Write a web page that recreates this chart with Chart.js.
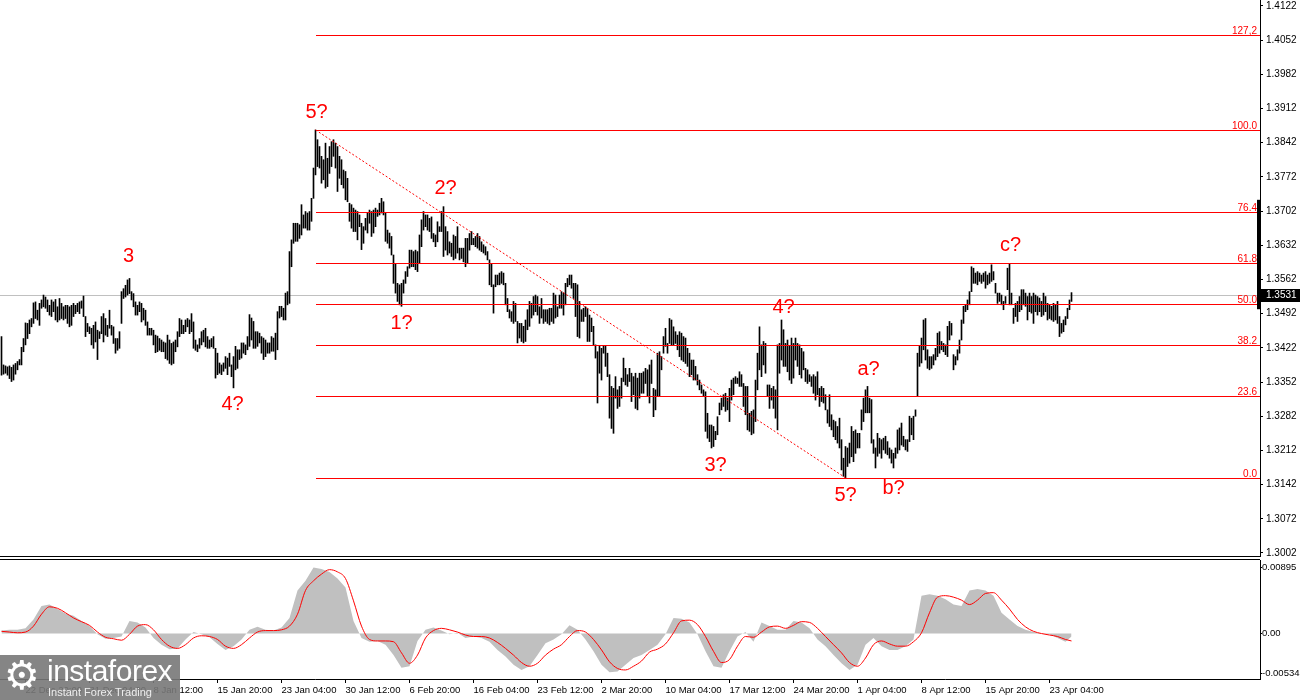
<!DOCTYPE html>
<html><head><meta charset="utf-8">
<script src="https://cdn.jsdelivr.net/npm/chart.js@4.4.1/dist/chart.umd.min.js"></script>
<style>
html,body{margin:0;padding:0;background:#fff;width:1300px;height:700px;overflow:hidden;font-family:"Liberation Sans",Arial,sans-serif}
#c1{position:absolute;left:0;top:0}
#c2{position:absolute;left:0;top:556px}
#wm{position:absolute;left:0;top:655px;width:180px;height:45px;background:rgba(120,120,120,0.9);color:#fff;overflow:hidden}
#wm .g{position:absolute;left:4px;top:-4px;font-family:"DejaVu Sans";font-size:40px;line-height:48px;color:#fff}
#wm .t{position:absolute;left:47px;top:0px;font-size:30px;line-height:32px;letter-spacing:-0.5px;color:#fff}
#wm .s{position:absolute;left:48px;top:31px;font-size:11px;line-height:13px;color:#eee}
</style></head><body>
<canvas id="c1" width="1300" height="557"></canvas>
<canvas id="c2" width="1300" height="144"></canvas>
<div id="wm"><span class="g">&#9881;</span><span class="t">instaforex</span><span class="s">Instant Forex Trading</span></div>
<script>
// ---- price bars (H4), high / low ----
const highs=[
1.3445,1.3387,1.3385,1.3383,1.3385,1.3382,1.3387,1.3390,1.3394,1.3398,
1.3423,1.3441,1.3473,1.3472,1.3479,1.3482,1.3514,1.3516,1.3499,1.3513,
1.3520,1.3530,1.3526,1.3520,1.3509,1.3520,1.3516,1.3521,1.3506,1.3523,
1.3513,1.3506,1.3509,1.3509,1.3506,1.3509,1.3513,1.3509,1.3513,1.3516,
1.3518,1.3528,1.3486,1.3472,1.3465,1.3462,1.3468,1.3475,1.3458,1.3455,
1.3486,1.3492,1.3482,1.3468,1.3499,1.3468,1.3465,1.3441,1.3441,1.3455,
1.3537,1.3543,1.3550,1.3561,1.3564,1.3537,1.3533,1.3516,1.3509,1.3516,
1.3513,1.3503,1.3499,1.3475,1.3462,1.3462,1.3458,1.3448,1.3446,1.3441,
1.3438,1.3434,1.3432,1.3448,1.3438,1.3431,1.3434,1.3438,1.3455,1.3482,
1.3479,1.3468,1.3479,1.3482,1.3479,1.3492,1.3475,1.3438,1.3428,1.3441,
1.3455,1.3458,1.3462,1.3445,1.3438,1.3441,1.3445,
1.3421,1.3411,1.3391,1.3387,1.3391,1.3404,1.3401,1.3411,1.3387,1.3404,
1.3425,1.3418,1.3418,1.3432,1.3432,1.3428,1.3445,1.3490,1.3483,1.3476,
1.3455,1.3455,1.3452,1.3445,1.3442,1.3438,1.3432,1.3432,1.3445,1.3442,
1.3452,1.3496,1.3507,1.3507,1.3503,1.3534,1.3537,1.3619,1.3643,1.3677,
1.3677,1.3677,1.3674,1.3715,1.3694,1.3701,1.3698,1.3701,1.3728,1.3790,
1.3868,1.3848,1.3834,1.3814,1.3807,1.3841,1.3810,1.3834,1.3844,1.3848,
1.3841,1.3834,1.3814,1.3807,1.3786,1.3783,1.3769,1.3718,1.3715,1.3708,
1.3704,1.3701,1.3694,1.3677,1.3670,1.3687,1.3698,1.3704,1.3701,1.3704,
1.3708,1.3704,1.3718,1.3728,1.3721,1.3698,1.3663,1.3657,1.3650,1.3612,
1.3595,1.3554,1.3551,1.3554,1.3561,1.3578,1.3588,1.3622,1.3622,1.3619,
1.3622,1.3619,1.3653,1.3684,1.3701,1.3694,1.3694,1.3687,
1.3690,1.3656,1.3653,1.3680,1.3670,1.3701,1.3711,1.3670,1.3660,1.3639,
1.3636,1.3653,1.3650,1.3670,1.3626,1.3626,1.3626,1.3646,1.3646,1.3656,
1.3660,1.3646,1.3650,1.3656,1.3650,1.3639,1.3633,1.3629,1.3619,1.3602,
1.3595,1.3551,1.3571,1.3571,1.3575,1.3578,1.3575,1.3554,1.3523,1.3500,
1.3496,1.3517,1.3513,1.3476,1.3472,1.3472,1.3466,1.3479,1.3500,1.3517,
1.3513,1.3527,1.3530,1.3527,1.3506,1.3523,1.3500,1.3500,1.3500,1.3503,
1.3503,1.3534,1.3530,1.3506,1.3530,1.3537,1.3534,1.3554,1.3564,1.3571,
1.3571,1.3554,1.3554,1.3551,1.3517,1.3500,1.3503,1.3506,1.3503,1.3489,
1.3483,1.3466,1.3428,1.3414,1.3425,1.3421,1.3425,1.3425,1.3411,1.3367,
1.3343,1.3339,1.3363,1.3336,1.3343,1.3360,1.3401,1.3380,1.3367,1.3380,
1.3370,1.3363,1.3370,1.3360,1.3370,
1.3370,1.3373,1.3380,1.3377,1.3387,1.3397,1.3339,1.3336,1.3411,1.3414,
1.3404,1.3445,1.3462,1.3431,1.3482,1.3479,1.3465,1.3455,1.3448,1.3455,
1.3452,1.3445,1.3442,1.3421,1.3411,1.3397,1.3397,1.3384,1.3367,1.3356,
1.3346,1.3336,1.3332,1.3288,1.3264,1.3264,1.3261,1.3251,1.3281,1.3309,
1.3319,1.3326,1.3329,1.3319,1.3339,1.3356,1.3360,1.3363,1.3360,1.3373,
1.3367,1.3349,1.3343,1.3343,1.3288,1.3292,1.3295,1.3356,1.3411,1.3465,
1.3428,1.3435,1.3431,1.3346,1.3346,1.3339,1.3343,1.3336,1.3428,1.3431,
1.3479,1.3459,1.3431,1.3438,1.3425,1.3442,1.3431,1.3442,1.3431,1.3428,
1.3421,1.3414,1.3380,1.3377,1.3367,1.3363,1.3367,1.3363,1.3373,1.3339,
1.3343,1.3339,1.3326,1.3295,1.3326,1.3285,1.3274,1.3271,1.3261,1.3278,
1.3234,1.3196,1.3220,1.3217,1.3227,1.3261,1.3251,1.3254,1.3247,1.3247,
1.3295,1.3319,1.3336,1.3343,1.3319,1.3316,1.3234,1.3217,1.3247,1.3237,
1.3234,1.3237,1.3241,1.3230,1.3217,1.3213,1.3206,1.3217,1.3254,1.3258,
1.3268,1.3241,1.3234,1.3234,1.3282,1.3278,1.3282,1.3295,1.3411,1.3425,
1.3442,1.3479,1.3482,1.3418,1.3404,1.3404,1.3408,1.3421,1.3452,1.3455,
1.3435,1.3431,1.3428,1.3466,1.3476,1.3472,1.3408,1.3404,1.3418,1.3438,
1.3479,1.3507,1.3510,1.3520,1.3537,1.3588,1.3585,1.3575,1.3578,1.3575,
1.3571,1.3575,1.3578,1.3571,1.3575,1.3592,1.3578,1.3554,1.3534,1.3534,
1.3530,1.3517,1.3527,1.3585,1.3595,1.3534,1.3503,1.3513,1.3517,1.3527,
1.3541,1.3541,1.3534,1.3527,1.3534,1.3527,1.3534,1.3530,1.3527,1.3524,
1.3517,1.3534,1.3527,1.3513,1.3510,1.3507,1.3513,1.3510,1.3517,1.3486,
1.3472,1.3479,1.3486,1.3503,1.3520,1.3535];
const lows=[
1.3366,1.3368,1.3370,1.3366,1.3359,1.3353,1.3356,1.3368,1.3377,1.3387,
1.3387,1.3414,1.3428,1.3441,1.3451,1.3465,1.3472,1.3482,1.3479,1.3468,
1.3503,1.3506,1.3503,1.3496,1.3489,1.3486,1.3496,1.3479,1.3475,1.3479,
1.3482,1.3479,1.3482,1.3472,1.3465,1.3468,1.3486,1.3492,1.3496,1.3492,
1.3503,1.3486,1.3445,1.3455,1.3451,1.3428,1.3421,1.3434,1.3398,1.3441,
1.3451,1.3434,1.3448,1.3445,1.3462,1.3448,1.3431,1.3411,1.3417,1.3421,
1.3472,1.3523,1.3526,1.3530,1.3533,1.3520,1.3506,1.3489,1.3489,1.3496,
1.3475,1.3479,1.3468,1.3448,1.3448,1.3448,1.3428,1.3412,1.3414,1.3417,
1.3414,1.3414,1.3400,1.3397,1.3390,1.3387,1.3390,1.3414,1.3424,1.3445,
1.3451,1.3451,1.3455,1.3465,1.3451,1.3455,1.3421,1.3417,1.3414,1.3421,
1.3428,1.3434,1.3424,1.3421,1.3421,1.3424,1.3421,
1.3360,1.3367,1.3370,1.3367,1.3374,1.3380,1.3367,1.3384,1.3363,1.3340,
1.3377,1.3380,1.3398,1.3401,1.3411,1.3408,1.3418,1.3425,1.3438,1.3421,
1.3421,1.3425,1.3432,1.3411,1.3398,1.3404,1.3411,1.3411,1.3415,1.3415,
1.3398,1.3418,1.3483,1.3486,1.3479,1.3479,1.3510,1.3513,1.3588,1.3636,
1.3640,1.3640,1.3646,1.3653,1.3667,1.3667,1.3663,1.3663,1.3681,1.3728,
1.3776,1.3793,1.3790,1.3759,1.3766,1.3749,1.3752,1.3779,1.3793,1.3814,
1.3790,1.3742,1.3769,1.3756,1.3749,1.3725,1.3721,1.3681,1.3667,1.3660,
1.3660,1.3643,1.3670,1.3623,1.3636,1.3663,1.3657,1.3677,1.3650,1.3657,
1.3670,1.3691,1.3694,1.3698,1.3694,1.3640,1.3636,1.3626,1.3612,1.3554,
1.3534,1.3517,1.3510,1.3507,1.3534,1.3554,1.3568,1.3585,1.3588,1.3588,
1.3582,1.3578,1.3595,1.3629,1.3663,1.3670,1.3663,1.3660,
1.3646,1.3639,1.3629,1.3639,1.3660,1.3660,1.3609,1.3622,1.3612,1.3616,
1.3609,1.3602,1.3605,1.3616,1.3602,1.3605,1.3598,1.3588,1.3595,1.3622,
1.3633,1.3633,1.3629,1.3626,1.3622,1.3619,1.3616,1.3612,1.3602,1.3551,
1.3547,1.3493,1.3547,1.3551,1.3551,1.3554,1.3551,1.3510,1.3496,1.3483,
1.3476,1.3472,1.3476,1.3432,1.3442,1.3435,1.3432,1.3435,1.3459,1.3466,
1.3483,1.3489,1.3496,1.3489,1.3472,1.3483,1.3472,1.3476,1.3472,1.3469,
1.3476,1.3472,1.3483,1.3486,1.3503,1.3503,1.3489,1.3510,1.3547,1.3551,
1.3544,1.3523,1.3486,1.3445,1.3442,1.3476,1.3476,1.3486,1.3435,1.3435,
1.3455,1.3428,1.3401,1.3309,1.3370,1.3356,1.3411,1.3384,1.3363,1.3278,
1.3257,1.3247,1.3319,1.3298,1.3302,1.3319,1.3353,1.3346,1.3343,1.3353,
1.3312,1.3326,1.3298,1.3295,1.3319,
1.3329,1.3329,1.3349,1.3322,1.3309,1.3349,1.3281,1.3295,1.3322,1.3322,
1.3377,1.3411,1.3425,1.3411,1.3431,1.3428,1.3428,1.3431,1.3418,1.3404,
1.3397,1.3394,1.3390,1.3384,1.3363,1.3367,1.3356,1.3356,1.3346,1.3336,
1.3329,1.3322,1.3251,1.3237,1.3230,1.3217,1.3220,1.3234,1.3244,1.3285,
1.3295,1.3302,1.3292,1.3295,1.3271,1.3315,1.3326,1.3349,1.3349,1.3343,
1.3343,1.3302,1.3285,1.3254,1.3251,1.3244,1.3247,1.3271,1.3336,1.3377,
1.3363,1.3387,1.3370,1.3322,1.3298,1.3315,1.3298,1.3278,1.3254,1.3370,
1.3397,1.3384,1.3384,1.3373,1.3356,1.3349,1.3360,1.3397,1.3384,1.3367,
1.3360,1.3377,1.3353,1.3349,1.3353,1.3343,1.3329,1.3315,1.3326,1.3302,
1.3312,1.3309,1.3295,1.3268,1.3261,1.3254,1.3240,1.3234,1.3227,1.3217,
1.3172,1.3159,1.3156,1.3179,1.3186,1.3199,1.3189,1.3206,1.3217,1.3217,
1.3254,1.3271,1.3289,1.3289,1.3289,1.3227,1.3206,1.3176,1.3200,1.3206,
1.3196,1.3213,1.3206,1.3203,1.3196,1.3186,1.3176,1.3196,1.3206,1.3213,
1.3223,1.3220,1.3213,1.3210,1.3230,1.3244,1.3234,1.3282,1.3322,1.3384,
1.3391,1.3418,1.3397,1.3380,1.3377,1.3380,1.3387,1.3397,1.3404,1.3411,
1.3418,1.3414,1.3408,1.3404,1.3438,1.3448,1.3377,1.3387,1.3397,1.3411,
1.3438,1.3472,1.3496,1.3500,1.3510,1.3537,1.3554,1.3554,1.3551,1.3558,
1.3554,1.3558,1.3544,1.3551,1.3554,1.3558,1.3561,1.3534,1.3513,1.3517,
1.3510,1.3500,1.3513,1.3541,1.3510,1.3510,1.3472,1.3486,1.3476,1.3496,
1.3500,1.3510,1.3507,1.3479,1.3496,1.3493,1.3472,1.3496,1.3489,1.3496,
1.3486,1.3489,1.3496,1.3479,1.3482,1.3479,1.3476,1.3479,1.3472,1.3445,
1.3452,1.3455,1.3469,1.3482,1.3500,1.3517];

const priceTicks=[1.4122,1.4052,1.3982,1.3912,1.3842,1.3772,1.3702,1.3632,1.3562,1.3492,1.3422,1.3352,1.3282,1.3212,1.3142,1.3072,1.3002];
const lastPrice=1.3531;
const fibHigh=1.3868, fibLow=1.3156;
const fibStartIndex=157, fibEndIndex=422;
const fibRatios=[0,23.6,38.2,50,61.8,76.4,100,127.2];
const fibLabels=["0.0","23.6","38.2","50.0","61.8","76.4","100.0","127,2"];
const markerTop=1.3725, markerBottom=1.3501;

const waveLabels=["3","4?","5?","1?","2?","3?","4?","5?","a?","b?","c?"];
const waveIdx=[63.5,115.5,157.5,200,222,357,391,422,433.5,446,504.5];
const wavePrice=[1.3608,1.3307,1.3903,1.3471,1.3749,1.3182,1.3504,1.3119,1.3377,1.3135,1.3632];

// ---- MACD (sampled every 4 bars) ----
const macdIdx=[];for(let k=0;k<=532;k+=4)macdIdx.push(k);macdIdx.push(535);
const macdHist=[
0.0004,0.0005,0.0005,0.0007,0.0019,0.0037,0.0039,0.0033,0.0027,0.0024,
0.0017,0.0010,-0.0001,-0.0007,-0.0006,-0.0004,0.0017,0.0015,0.0008,-0.0006,
-0.0015,-0.0021,-0.0020,-0.0008,0.0002,-0.0001,-0.0005,-0.0014,-0.0022,-0.0017,
-0.0008,0.0005,0.0009,0.0005,0.0004,0.0008,0.0021,0.0058,0.0071,0.0089,
0.0087,0.0083,0.0074,0.0062,0.0017,-0.0006,-0.0011,-0.0010,-0.0015,-0.0029,
-0.0046,-0.0044,-0.0010,0.0005,0.0008,0.0004,-0.0001,0.0001,-0.0006,-0.0004,
-0.0006,-0.0011,-0.0022,-0.0031,-0.0042,-0.0049,-0.0044,-0.0029,-0.0013,-0.0008,
-0.0001,0.0011,0.0005,-0.0008,-0.0024,-0.0042,-0.0052,-0.0051,-0.0042,-0.0033,
-0.0029,-0.0022,-0.0015,-0.0001,0.0021,0.0020,0.0015,-0.0001,-0.0024,-0.0044,
-0.0046,-0.0024,-0.0004,0.0002,-0.0011,0.0015,0.0010,0.0005,0.0005,0.0017,
0.0015,0.0007,-0.0008,-0.0017,-0.0029,-0.0040,-0.0049,-0.0042,-0.0015,-0.0006,
-0.0017,-0.0022,-0.0022,-0.0017,-0.0008,0.0051,0.0053,0.0051,0.0046,0.0039,
0.0037,0.0058,0.0060,0.0058,0.0051,0.0028,0.0019,0.0010,0.0005,0.0002,
0.0000,-0.0001,-0.0006,-0.0011,-0.0004];
const macdSignal=[
0.0003,0.0002,0.0001,0.0002,0.0010,0.0026,0.0036,0.0034,0.0028,0.0021,
0.0016,0.0011,0.0002,-0.0005,-0.0007,-0.0009,-0.0001,0.0010,0.0012,0.0005,
-0.0008,-0.0017,-0.0020,-0.0015,-0.0006,-0.0003,-0.0004,-0.0008,-0.0017,-0.0020,
-0.0015,-0.0006,0.0002,0.0004,0.0004,0.0005,0.0010,0.0026,0.0058,0.0071,
0.0080,0.0086,0.0083,0.0074,0.0044,0.0010,-0.0008,-0.0010,-0.0010,-0.0011,
-0.0026,-0.0040,-0.0029,-0.0006,0.0004,0.0007,0.0005,0.0002,-0.0002,-0.0004,
-0.0004,-0.0006,-0.0012,-0.0020,-0.0029,-0.0039,-0.0044,-0.0040,-0.0029,-0.0021,
-0.0015,-0.0004,0.0004,0.0002,-0.0008,-0.0022,-0.0038,-0.0047,-0.0049,-0.0044,
-0.0037,-0.0025,-0.0021,-0.0014,0.0001,0.0017,0.0018,0.0012,-0.0004,-0.0024,
-0.0039,-0.0035,-0.0017,-0.0004,-0.0005,0.0002,0.0009,0.0010,0.0007,0.0011,
0.0016,0.0015,0.0007,-0.0004,-0.0015,-0.0026,-0.0039,-0.0044,-0.0033,-0.0015,
-0.0010,-0.0014,-0.0017,-0.0017,-0.0011,0.0001,0.0028,0.0049,0.0051,0.0049,
0.0045,0.0039,0.0045,0.0054,0.0055,0.0045,0.0033,0.0019,0.0009,0.0003,
0.0000,-0.0002,-0.0004,-0.0008,-0.0010];
const macdTicks=[0.00895,0,-0.00534];
const macdTickLabels=["0.00895","0.00","-0.00534"];

const dateTickIdx=[12,44,76,108,140,172,204,236,268,300,332,364,396,428,460,492,524];
const dateTickLabels=["22 Dec 20:00","31 Dec 04:00","8 Jan 12:00","15 Jan 20:00","23 Jan 04:00","30 Jan 12:00","6 Feb 20:00","16 Feb 04:00","23 Feb 12:00","2 Mar 20:00","10 Mar 04:00","17 Mar 12:00","24 Mar 20:00","1 Apr 04:00","8 Apr 12:00","15 Apr 20:00","23 Apr 04:00"];

const X_MIN=-0.75, X_MAX=629.25;
const FONT='"Liberation Sans", Arial, sans-serif';
Chart.defaults.font.family=FONT;

const overlay1={
  id:'ov1',
  beforeDatasetsDraw(ch){
    const {ctx,chartArea:a,scales:{y}}=ch;
    ctx.save();
    ctx.strokeStyle='#c0c0c0';ctx.lineWidth=1;
    const py=Math.round(y.getPixelForValue(lastPrice))+0.5;
    ctx.beginPath();ctx.moveTo(a.left,py);ctx.lineTo(a.right,py);ctx.stroke();
    ctx.restore();
  },
  afterDatasetsDraw(ch){
    const {ctx,chartArea:a,scales:{x,y}}=ch;
    ctx.save();
    const x0=Math.round(x.getPixelForValue(fibStartIndex));
    ctx.lineWidth=1;
    ctx.font='10px '+FONT;ctx.textAlign='right';ctx.textBaseline='alphabetic';
    fibRatios.forEach((r,k)=>{
      const lv=fibLow+(fibHigh-fibLow)*r/100;
      const py=Math.round(y.getPixelForValue(lv))+0.5;
      ctx.strokeStyle='#ff0000';
      ctx.beginPath();ctx.moveTo(x0,py);ctx.lineTo(a.right,py);ctx.stroke();
      ctx.fillStyle='#ff0000';
      ctx.fillText(fibLabels[k],a.right-3,py-2);
    });
    ctx.strokeStyle='#ff0000';
    ctx.setLineDash([2,2]);
    ctx.beginPath();
    ctx.moveTo(x.getPixelForValue(fibStartIndex),y.getPixelForValue(fibHigh));
    ctx.lineTo(x.getPixelForValue(fibEndIndex),y.getPixelForValue(fibLow));
    ctx.stroke();ctx.setLineDash([]);
    ctx.font='20px '+FONT;ctx.textAlign='center';ctx.textBaseline='middle';ctx.fillStyle='#ff0000';
    waveLabels.forEach((t,k)=>ctx.fillText(t,x.getPixelForValue(waveIdx[k]),y.getPixelForValue(wavePrice[k])));
    ctx.fillStyle='#000';
    const t=y.getPixelForValue(markerTop),b=y.getPixelForValue(markerBottom);
    ctx.fillRect(a.right-3,t,3,b-t);
    ctx.restore();
  },
  afterDraw(ch){
    const {ctx,chartArea:a,scales:{y}}=ch;
    ctx.save();
    ctx.fillStyle='#000';
    ctx.fillRect(0,a.bottom-1,a.right,1);
    const py=y.getPixelForValue(lastPrice);
    ctx.fillRect(a.right+1,Math.round(py)-6,ch.width-a.right-1,13);
    ctx.fillStyle='#fff';ctx.font='10px '+FONT;ctx.textAlign='left';ctx.textBaseline='middle';
    ctx.fillText(lastPrice.toFixed(4),a.right+6,Math.round(py)+0.5);
    ctx.restore();
  }
};

new Chart(document.getElementById('c1'),{
  type:'bar',
  data:{datasets:[{data:highs.map((h,i)=>({x:i,y:[lows[i],h]})),backgroundColor:'#000',borderWidth:0,barThickness:1}]},
  options:{
    responsive:false,animation:false,devicePixelRatio:1,
    layout:{padding:0},
    plugins:{legend:{display:false},tooltip:{enabled:false}},
    scales:{
      x:{type:'linear',min:X_MIN,max:X_MAX,display:false,offset:false},
      y:{position:'right',min:1.29938,max:1.4134,
        afterFit(s){s.width=40;s.paddingTop=0;s.paddingBottom=0;},
        afterBuildTicks(s){s.ticks=priceTicks.map(v=>({value:v}));},
        ticks:{callback:v=>Number(v).toFixed(4),color:'#000',font:{size:10},padding:3,autoSkip:false},
        grid:{drawOnChartArea:false,drawTicks:true,tickLength:3,color:'#000'},
        border:{display:true,color:'#000'}}
    }
  },
  plugins:[overlay1]
});

const overlay2={
  id:'ov2',
  afterDraw(ch){
    const {ctx,chartArea:a}=ch;
    ctx.save();ctx.fillStyle='#000';
    ctx.fillRect(0,a.top-1,a.right,1);
    ctx.restore();
  }
};

new Chart(document.getElementById('c2'),{
  type:'line',
  data:{datasets:[
    {data:macdIdx.map((x,k)=>({x,y:macdSignal[k]})),borderColor:'#ff0000',borderWidth:1,pointRadius:0,cubicInterpolationMode:'monotone',fill:false,order:0},
    {data:macdIdx.map((x,k)=>({x,y:macdHist[k]})),borderWidth:0,borderColor:'rgba(0,0,0,0)',backgroundColor:'#c0c0c0',fill:'origin',pointRadius:0,tension:0,order:1}
  ]},
  options:{
    responsive:false,animation:false,devicePixelRatio:1,
    layout:{padding:{top:4,left:0,right:0,bottom:0}},
    plugins:{legend:{display:false},tooltip:{enabled:false}},
    scales:{
      x:{type:'linear',min:X_MIN,max:X_MAX,offset:false,
        afterFit(s){s.height=21;s.paddingLeft=0;s.paddingRight=0;},
        afterBuildTicks(s){s.ticks=dateTickIdx.map(v=>({value:v}));},
        ticks:{callback:v=>{const k=dateTickIdx.indexOf(v);return k<0?'':dateTickLabels[k];},align:'start',maxRotation:0,minRotation:0,autoSkip:false,color:'#000',font:{size:9.5},padding:2},
        grid:{drawOnChartArea:false,drawTicks:true,tickLength:4,color:'#000'},
        border:{display:true,color:'#000'}},
      y:{position:'right',min:-0.00612,max:0.0099,
        afterFit(s){s.width=40;s.paddingTop=0;s.paddingBottom=0;},
        afterBuildTicks(s){s.ticks=macdTicks.map(v=>({value:v}));},
        ticks:{callback:v=>{const k=macdTicks.indexOf(v);return k<0?'':macdTickLabels[k];},color:'#000',font:{size:9.5},padding:0,autoSkip:false},
        grid:{drawOnChartArea:false,drawTicks:true,tickLength:2,color:'#000'},
        border:{display:true,color:'#000'}}
    }
  },
  plugins:[overlay2]
});
</script>
</body></html>
